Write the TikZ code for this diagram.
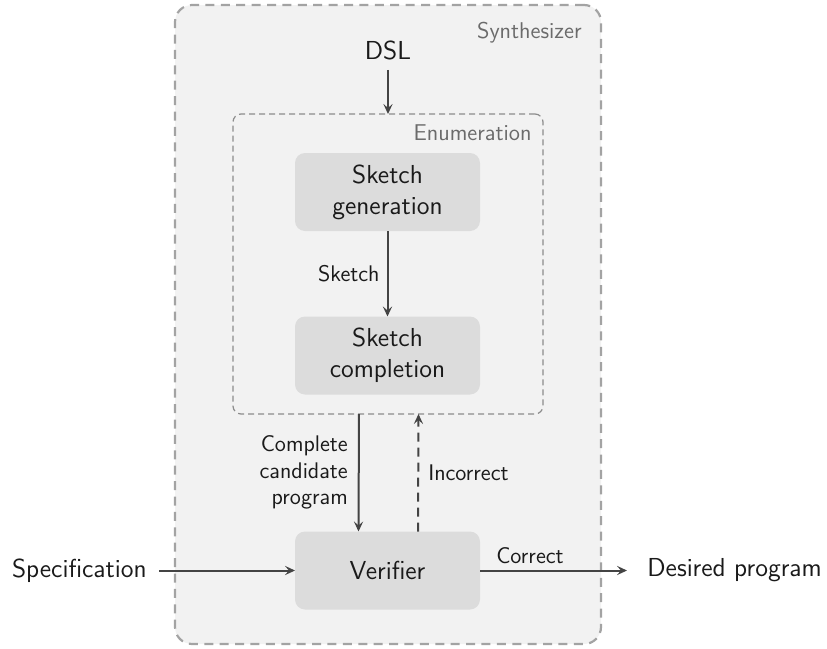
\documentclass[tikz,border=0pt]{standalone}
\usetikzlibrary{arrows.meta}
\definecolor{outerfill}{HTML}{F2F2F2}
\definecolor{outerdraw}{HTML}{A3A3A3}
\definecolor{innerdraw}{HTML}{8C8C8C}
\definecolor{boxfill}{HTML}{DCDCDC}
\definecolor{arrowcol}{HTML}{444444}
\definecolor{txt}{HTML}{1A1A1A}
\definecolor{graytxt}{HTML}{6B6B6B}
\tikzset{
  mainfont/.style={font=\sffamily\fontsize{13}{15.5}\selectfont, text=txt},
  smallfont/.style={font=\sffamily\fontsize{11.3}{13.25}\selectfont, text=txt},
  synbox/.style={draw=outerdraw, fill=outerfill, line width=1.1pt, rounded corners=8.5pt,
    dash pattern=on 4.5pt off 3.2pt, minimum width=213pt, minimum height=319.5pt, inner sep=0pt, outer sep=0pt},
  enumbox/.style={draw=innerdraw, line width=0.6pt, rounded corners=4pt,
    dash pattern=on 3pt off 2pt, minimum width=155pt, minimum height=150pt, inner sep=0pt, outer sep=0pt},
  procbox/.style={fill=boxfill, rounded corners=5pt, minimum width=92.5pt, minimum height=39pt,
    align=center, mainfont, inner sep=0pt, outer sep=0pt},
  grouplabel/.style={font=\sffamily\fontsize{11.4}{13}\selectfont, text=graytxt, inner sep=0pt},
  arr/.style={draw=arrowcol, line width=1pt, -{Stealth[length=5pt,width=4.6pt,inset=2pt]}},
  dasharr/.style={arr, dash pattern=on 4.5pt off 3pt},
}
\begin{document}
\begin{tikzpicture}[x=0.5pt,y=-0.5pt]
\useasboundingbox (0,0) rectangle (827,649);
% containers
\node[synbox] (syn) at (388,324.5) {};
\node[grouplabel, anchor=east] (synlabel) at (582,33) {Synthesizer};
\node[enumbox] (enum) at (388,264) {};
\node[grouplabel, anchor=east] (enumlabel) at (532,133) {Enumeration};
% nodes
\node[mainfont, inner sep=5pt] (dsl) at (388,50) {DSL};
\node[procbox] (gen) at (387.5,192) {Sketch\\generation};
\node[procbox] (comp) at (387.5,355.5) {Sketch\\completion};
\node[procbox] (ver) at (387.5,570.5) {Verifier};
\node[mainfont, anchor=east, inner xsep=6pt, inner ysep=0pt] (spec) at (159,570.5) {Specification};
\node[mainfont, anchor=west, inner xsep=10pt, inner ysep=0pt] (des) at (627,570.5) {Desired program};
% connectors
\draw[arr] (dsl.south) -- (dsl.south |- enum.north);
\draw[arr] (gen.south) -- node[midway, left, smallfont, inner sep=3.5pt] (sklabel) {Sketch} (comp.north);
\draw[arr] ([xshift=-14.5pt]enum.south) -- node[midway, left, smallfont, align=right, inner sep=5pt] (cclabel) {Complete\\candidate\\program} ([xshift=-14.5pt]ver.north);
\draw[dasharr] ([xshift=15.25pt]ver.north) -- node[midway, right, smallfont, inner sep=4.5pt] (inclabel) {Incorrect} ([xshift=15.25pt]enum.south);
\draw[arr] (spec.east) -- (spec.east -| ver.west);
\draw[arr] (ver.east) -- node[pos=0.34, above, smallfont, inner sep=3pt] (corlabel) {Correct} (ver.east -| des.west);
\end{tikzpicture}
\end{document}
